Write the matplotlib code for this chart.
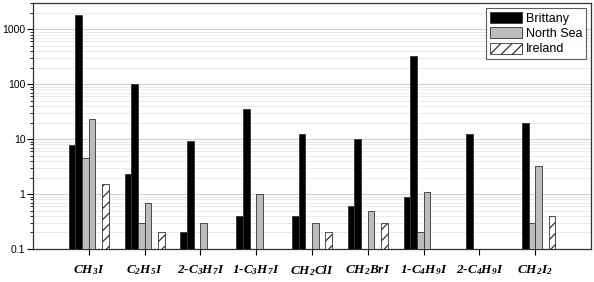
import numpy as np
import matplotlib
matplotlib.use("Agg")
import matplotlib.pyplot as plt
from matplotlib.ticker import LogLocator, FixedLocator, NullFormatter

# -----------------------------
# 1) Data (read from the figure)
# -----------------------------
labels = [r"$CH_3I$", r"$C_2H_5I$", r"$2\text{-}C_3H_7I$", r"$1\text{-}C_3H_7I$",
          r"$CH_2ClI$", r"$CH_2BrI$", r"$1\text{-}C_4H_9I$", r"$2\text{-}C_4H_9I$",
          r"$CH_2I_2$"]
nan = np.nan
brittany_low = [7.8, 2.3, 0.2, 0.4, 0.4, 0.6, 0.9, nan, nan]
brittany_high = [1850, 100, 9.2, 35, 12.5, 10, 330, 12.5, 20]
northsea_low = [4.6, 0.3, nan, nan, nan, nan, 0.2, nan, 0.3]
northsea_high = [23.5, 0.7, 0.3, 1.0, 0.3, 0.5, 1.1, nan, 3.2]
ireland = [1.5, 0.2, nan, nan, 0.2, 0.3, nan, nan, 0.4]

# -----------------------------
# 2) Fonts
# -----------------------------
plt.rcParams['font.family'] = ['Liberation Sans', 'DejaVu Sans']
plt.rcParams['mathtext.fontset'] = 'custom'
plt.rcParams['mathtext.rm'] = 'Liberation Serif:bold:italic'
plt.rcParams['mathtext.it'] = 'Liberation Serif:bold:italic'
plt.rcParams['mathtext.bf'] = 'Liberation Serif:bold:italic'
plt.rcParams['hatch.linewidth'] = 0.9

# -----------------------------
# 3) Plot
# -----------------------------
fig = plt.figure(figsize=(5.94, 2.82), dpi=100)
ax = fig.add_axes([33 / 594, 1 - 249 / 282, 558 / 594, 246 / 282])

x = np.arange(len(labels))
w = 0.12
bottom = 0.1
edge = '#333333'

def bars(vals, off, **kw):
    v = np.array(vals, dtype=float)
    ax.bar(x + off * w, v - bottom, w, bottom=bottom, edgecolor=edge,
           linewidth=0.6, zorder=3, **kw)

bars(brittany_low, -2.5, color='black')
bars(brittany_high, -1.5, color='black', label='Brittany')
bars(northsea_low, -0.5, color='#bcbcbc')
bars(northsea_high, 0.5, color='#bcbcbc', label='North Sea')
bars(ireland, 2.5, color='white', hatch='///', label='Ireland')

ax.set_yscale('log')
ax.set_ylim(0.1, 3000)
ax.set_xlim(-1, 9)

ax.yaxis.set_major_locator(FixedLocator([0.1, 1, 10, 100, 1000]))
ax.set_yticklabels(['0.1', '1', '10', '100', '1000'], fontsize=7.5)
ax.yaxis.set_minor_locator(LogLocator(base=10, subs=np.arange(2, 10)))
ax.yaxis.set_minor_formatter(NullFormatter())
ax.grid(axis='y', which='major', color='#cfcfcf', linewidth=0.8, zorder=0)
ax.grid(axis='y', which='minor', color='#e6e6e6', linewidth=0.6, zorder=0)

ax.set_xticks(x)
ax.set_xticklabels(labels, fontsize=9.5)
ax.tick_params(axis='x', length=4, width=0.8, pad=6)
ax.tick_params(axis='y', which='major', length=4, width=0.8, pad=1.5)
ax.tick_params(axis='y', which='minor', length=2, width=0.6)

for s in ax.spines.values():
    s.set_color('#333333')
    s.set_linewidth(0.9)

leg = ax.legend(loc='upper right', fontsize=9, frameon=True, fancybox=False,
                edgecolor='#333333', handlelength=2.6, handleheight=1.0,
                borderpad=0.3, labelspacing=0.2, handletextpad=0.3,
                borderaxespad=0.4)
leg.get_frame().set_linewidth(0.8)

fig.savefig('out.png', dpi=100)
